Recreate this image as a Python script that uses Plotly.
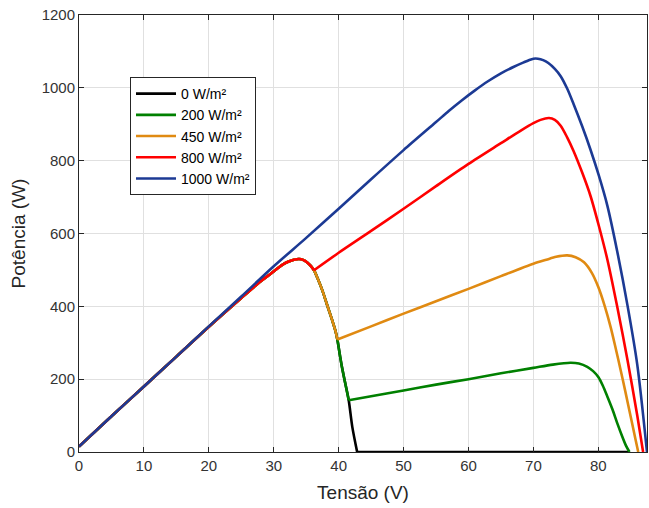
import plotly.graph_objects as go

# Shared first-module segment (common to shaded curves)
base_v = [0, 5, 10, 15, 20, 25, 28, 29.5, 30.7, 31.5, 32.3, 33.1, 33.9, 34.6, 35.2, 35.7, 36.2,
          36.8, 37.5, 38.2, 39.0, 39.5, 39.8,
          40.2, 40.5, 41.0, 41.55,
          42.1, 42.85]
base_p = [15, 98, 180, 262, 344, 423, 469, 489, 506, 516, 523, 528, 530, 527, 520, 511, 499,
          475, 443, 405, 362, 333, 309,
          265, 234, 190, 142,
          69, 0]

# Break voltage where each curve leaves the shared segment
brk_red, brk_orange, brk_green, brk_black = 36.2, 39.8, 41.55, 42.85

red_v = [40, 45, 50, 55, 60, 65, 68, 70, 71.1, 72.4, 73.3, 74.2, 75.2, 76.2, 77.5, 78.8, 80.1, 81.4, 82.9, 84.5, 86.0, 86.9]
red_p = [547, 607, 668, 730, 791, 848, 882, 903, 912, 917, 912, 896, 864, 826, 768, 703, 620, 528, 400, 252, 100, 0]

orange_v = [45, 50, 55, 60, 65, 70, 72, 73.5, 75.2, 76.5, 77.8, 79, 80, 81, 81.9, 82.7, 83.4, 84.2, 85.0, 85.7, 86.15]
orange_p = [345, 380, 414, 448, 483, 517, 528, 536, 540, 535, 521, 492, 453, 400, 343, 283, 228, 163, 96, 37, 0]

green_v = [45, 50, 55, 60, 65, 70, 73, 75.7, 77, 78.3, 79.2, 80, 80.7, 81.4, 82.2, 82.9, 83.7, 84.3, 84.8]
green_p = [153, 169, 185, 200, 216, 231, 240, 245, 243, 234, 222, 206, 182, 152, 116, 80, 42, 16, 0]

black_v = [84.8]
black_p = [0]

blue_v = [0, 5, 10, 15, 20, 25, 30, 35, 40, 45, 50, 55, 57, 59, 61, 63, 65, 67, 68.5, 69.3, 70, 70.7,
          71.5, 72.3, 73.3, 74.2, 75.2, 76.2, 77.5, 78.8, 80.1, 81.4, 82.9, 84.5, 86.0, 87.5]
blue_p = [15, 98, 180, 262, 345, 427, 510, 588, 668, 749, 829, 906, 937, 966, 993, 1018, 1040, 1058, 1070,
          1076, 1080, 1080, 1076, 1068, 1052, 1032, 998, 955, 895, 830, 758, 676, 552, 402, 240, 0]

labels = ["0 W/m²", "200 W/m²", "450 W/m²", "800 W/m²", "1000 W/m²"]
colors = ["#000000", "#008000", "#E08A12", "#FF0000", "#1C3A94"]
breaks = [brk_black, brk_green, brk_orange, brk_red]
tails = [(black_v, black_p), (green_v, green_p), (orange_v, orange_p), (red_v, red_p)]

fig = go.Figure()
LW = 2.6
for name, c, brk, (tv, tp) in zip(labels[:4], colors[:4], breaks, tails):
    hv = [x for x in base_v if x <= brk]
    hp = base_p[:len(hv)]
    # shared part
    fig.add_trace(go.Scatter(x=hv, y=hp, mode="lines", name=name, legendgroup=name,
                             line=dict(color=c, width=LW, shape="spline", smoothing=0.8)))
    # own part, starting at the break point
    fig.add_trace(go.Scatter(x=[hv[-1]] + tv, y=[hp[-1]] + tp, mode="lines", name=name,
                             legendgroup=name, showlegend=False,
                             line=dict(color=c, width=LW, shape="spline", smoothing=0.8)))

fig.add_trace(go.Scatter(x=blue_v, y=blue_p, mode="lines", name=labels[4],
                         line=dict(color=colors[4], width=LW, shape="spline", smoothing=0.8)))

axis_common = dict(showline=True, linecolor="#262626", linewidth=1, mirror="ticks",
                   ticks="inside", ticklen=5, tickcolor="#262626",
                   showgrid=True, gridcolor="#e0e0e0", gridwidth=1, zeroline=False,
                   tickfont=dict(family="Liberation Sans, Arial", size=15, color="#333333"))

fig.update_layout(
    width=649, height=508,
    margin=dict(l=79, r=2, t=15, b=56),
    paper_bgcolor="white", plot_bgcolor="white",
    font=dict(family="Liberation Sans, Arial", color="#262626"),
    xaxis=dict(range=[0, 87.5], dtick=10, tick0=0,
               title=dict(text="Tensão (V)", font=dict(size=19, color="#262626"), standoff=12),
               **axis_common),
    yaxis=dict(range=[0, 1200], dtick=200, tick0=0,
               title=dict(text="Potência (W)", font=dict(size=19, color="#262626"), standoff=10),
               **axis_common),
    legend=dict(x=0.0898, y=0.858, xanchor="left", yanchor="top",
                bgcolor="white", bordercolor="#262626", borderwidth=1,
                font=dict(family="Liberation Sans, Arial", size=14, color="#000000"),
                itemwidth=40, traceorder="normal"),
    showlegend=True,
)

fig.write_html("out.html")
